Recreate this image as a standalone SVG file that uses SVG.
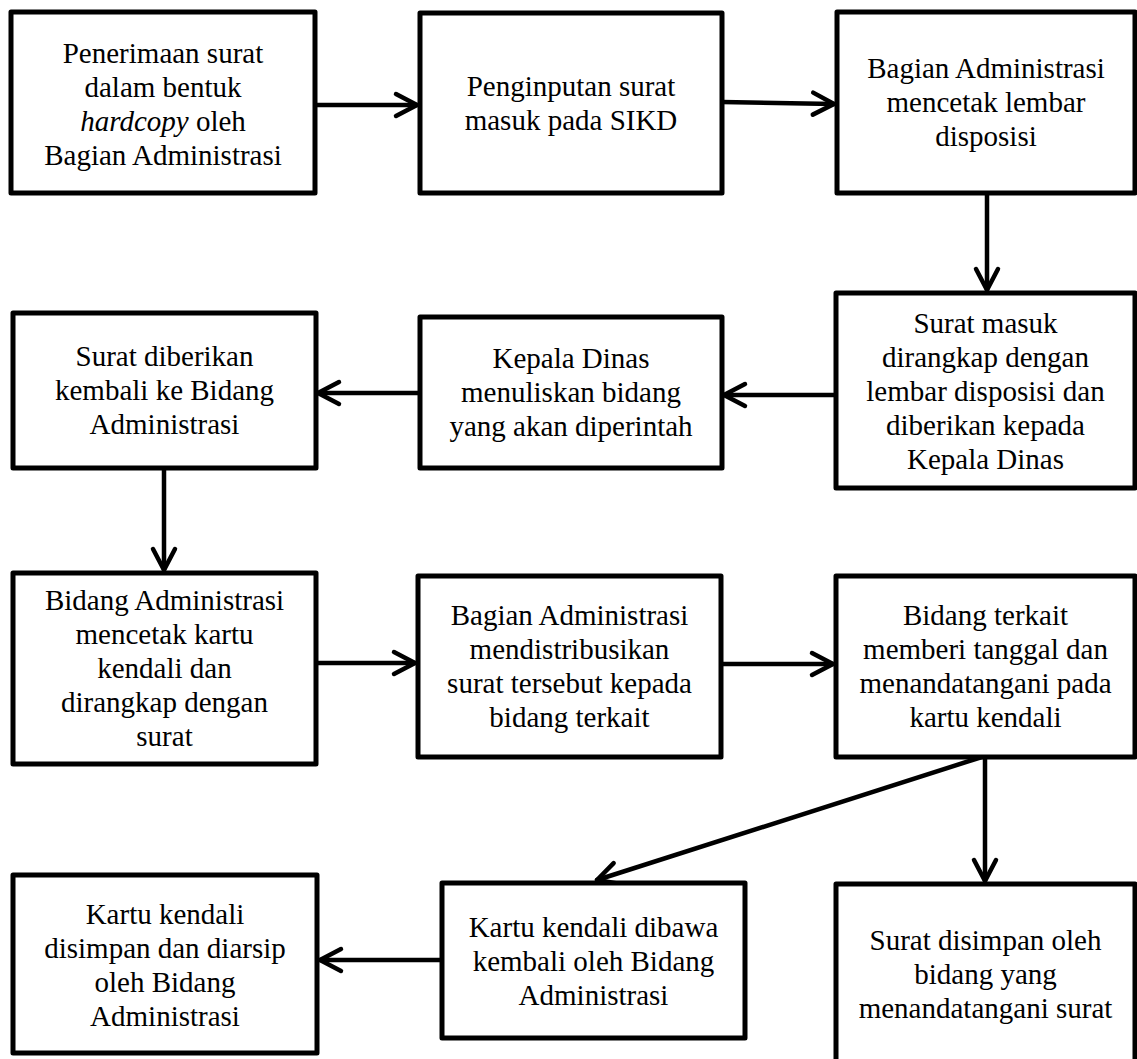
<svg xmlns="http://www.w3.org/2000/svg" width="1137" height="1059" viewBox="0 0 1137 1059">
<style>
.box{fill:#fff;stroke:#000;stroke-width:5;stroke-linejoin:round}
.t{font-size:29px;fill:#000;text-anchor:middle}
.c{fill:none;stroke:#000;stroke-width:4.5;stroke-linecap:round}
</style>
<defs>
<marker id="ah" markerUnits="userSpaceOnUse" markerWidth="34" markerHeight="34" viewBox="-28 -17 34 34" refX="0" refY="0" orient="auto">
<path d="M-21,-11 L0,0 L-21,11" fill="none" stroke="#000" stroke-width="4.5" stroke-linecap="round" stroke-linejoin="round"/>
</marker>
</defs>
<rect width="1137" height="1059" fill="#fff"/>
<g id="connectors">
<line class="c" x1="315" y1="105" x2="417" y2="105" marker-end="url(#ah)"/>
<line class="c" x1="722" y1="102" x2="834" y2="104" marker-end="url(#ah)"/>
<line class="c" x1="987" y1="193" x2="987" y2="290" marker-end="url(#ah)"/>
<line class="c" x1="836" y1="395" x2="724" y2="395" marker-end="url(#ah)"/>
<line class="c" x1="420" y1="393" x2="318" y2="393" marker-end="url(#ah)"/>
<line class="c" x1="164" y1="468" x2="164" y2="570" marker-end="url(#ah)"/>
<line class="c" x1="316" y1="663" x2="415" y2="663" marker-end="url(#ah)"/>
<line class="c" x1="721" y1="664" x2="833" y2="664" marker-end="url(#ah)"/>
<line class="c" x1="985" y1="757" x2="985" y2="881" marker-end="url(#ah)"/>
<line class="c" x1="985" y1="756" x2="597" y2="880" marker-end="url(#ah)"/>
<line class="c" x1="442" y1="960" x2="320" y2="960" marker-end="url(#ah)"/>
</g>
<g font-family="'Liberation Serif', 'Times New Roman', 'DejaVu Serif', serif">
<g id="n1">
<rect class="box" x="11" y="12" width="304" height="181"/>
<text class="t"><tspan x="163" y="63">Penerimaan surat</tspan><tspan x="163" y="97">dalam bentuk</tspan><tspan x="163" y="131"><tspan font-style="italic">hardcopy</tspan> oleh</tspan><tspan x="163" y="165">Bagian Administrasi</tspan></text>
</g>
<g id="n2">
<rect class="box" x="420" y="13" width="302" height="180"/>
<text class="t"><tspan x="571" y="96">Penginputan surat</tspan><tspan x="571" y="130">masuk pada SIKD</tspan></text>
</g>
<g id="n3">
<rect class="box" x="837" y="12" width="298" height="181"/>
<text class="t"><tspan x="986" y="78">Bagian Administrasi</tspan><tspan x="986" y="112">mencetak lembar</tspan><tspan x="986" y="146">disposisi</tspan></text>
</g>
<g id="n4">
<rect class="box" x="836" y="293" width="299" height="195"/>
<text class="t"><tspan x="985.5" y="333">Surat masuk</tspan><tspan x="985.5" y="367">dirangkap dengan</tspan><tspan x="985.5" y="401">lembar disposisi dan</tspan><tspan x="985.5" y="435">diberikan kepada</tspan><tspan x="985.5" y="469">Kepala Dinas</tspan></text>
</g>
<g id="n5">
<rect class="box" x="420" y="317" width="302" height="151"/>
<text class="t"><tspan x="571" y="368">Kepala Dinas</tspan><tspan x="571" y="402">menuliskan bidang</tspan><tspan x="571" y="436">yang akan diperintah</tspan></text>
</g>
<g id="n6">
<rect class="box" x="13" y="313" width="303" height="155"/>
<text class="t"><tspan x="164.5" y="366">Surat diberikan</tspan><tspan x="164.5" y="400">kembali ke Bidang</tspan><tspan x="164.5" y="434">Administrasi</tspan></text>
</g>
<g id="n7">
<rect class="box" x="13" y="573" width="303" height="191"/>
<text class="t"><tspan x="164.5" y="610">Bidang Administrasi</tspan><tspan x="164.5" y="644">mencetak kartu</tspan><tspan x="164.5" y="678">kendali dan</tspan><tspan x="164.5" y="712">dirangkap dengan</tspan><tspan x="164.5" y="746">surat</tspan></text>
</g>
<g id="n8">
<rect class="box" x="418" y="576" width="303" height="181"/>
<text class="t"><tspan x="569.5" y="625">Bagian Administrasi</tspan><tspan x="569.5" y="659">mendistribusikan</tspan><tspan x="569.5" y="693">surat tersebut kepada</tspan><tspan x="569.5" y="727">bidang terkait</tspan></text>
</g>
<g id="n9">
<rect class="box" x="836" y="576" width="299" height="181"/>
<text class="t"><tspan x="985.5" y="625">Bidang terkait</tspan><tspan x="985.5" y="659">memberi tanggal dan</tspan><tspan x="985.5" y="693">menandatangani pada</tspan><tspan x="985.5" y="727">kartu kendali</tspan></text>
</g>
<g id="n10">
<rect class="box" x="13" y="875" width="304" height="178"/>
<text class="t"><tspan x="165" y="924">Kartu kendali</tspan><tspan x="165" y="958">disimpan dan diarsip</tspan><tspan x="165" y="992">oleh Bidang</tspan><tspan x="165" y="1026">Administrasi</tspan></text>
</g>
<g id="n11">
<rect class="box" x="442" y="883" width="303" height="155"/>
<text class="t"><tspan x="593.5" y="937">Kartu kendali dibawa</tspan><tspan x="593.5" y="971">kembali oleh Bidang</tspan><tspan x="593.5" y="1005">Administrasi</tspan></text>
</g>
<g id="n12">
<rect class="box" x="836" y="884" width="299" height="182"/>
<text class="t"><tspan x="985.5" y="950">Surat disimpan oleh</tspan><tspan x="985.5" y="984">bidang yang</tspan><tspan x="985.5" y="1018">menandatangani surat</tspan></text>
</g>
</g>
</svg>
